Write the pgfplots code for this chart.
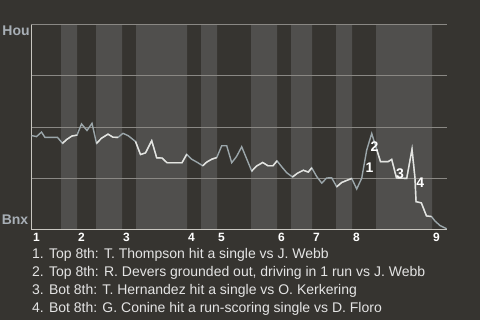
\documentclass[border=0pt]{standalone}
\usepackage{fontspec}
\setmainfont{Liberation Sans}
\usepackage{pgfplots}
\pgfplotsset{compat=1.18}
\usepackage{pgfplotstable}
\definecolor{bg}{RGB}{54,52,48}
\definecolor{band}{RGB}{80,79,77}
\definecolor{gridc}{RGB}{138,136,132}
\definecolor{axc}{RGB}{200,198,192}
\definecolor{lineblue}{RGB}{155,166,170}
\definecolor{linewhite}{RGB}{228,228,224}
\definecolor{txt}{RGB}{228,228,228}
\definecolor{team}{RGB}{168,175,182}

\pgfplotstableread{
x y
0.5 0.458
5.5 0.453
10.5 0.475
14 0.449
26.5 0.449
31.5 0.420
36 0.440
41 0.456
46 0.460
50.5 0.515
56 0.483
61 0.518
65.5 0.420
70.5 0.445
77 0.465
82 0.450
87 0.449
92 0.469
97.3 0.457
104.5 0.429
109.5 0.365
114.5 0.373
120.7 0.433
125.7 0.349
131 0.348
136 0.325
151 0.325
155.7 0.366
160.7 0.342
166.5 0.326
171.7 0.310
175.7 0.328
180.7 0.342
185.7 0.350
190.7 0.408
195.7 0.408
200.7 0.325
205.5 0.355
210.7 0.403
220.7 0.284
225.7 0.309
231.7 0.326
237 0.310
242 0.310
246 0.334
250.7 0.305
255.7 0.276
261.5 0.255
266.3 0.273
272.3 0.288
277.3 0.279
280.7 0.300
285.7 0.257
290.7 0.225
295.7 0.250
300.7 0.251
305.7 0.207
310.7 0.228
315.7 0.238
320.7 0.248
325.7 0.196
330.7 0.249
335.7 0.387
340.7 0.468
345.7 0.390
349.5 0.330
357 0.330
360.7 0.341
365.5 0.250
375.7 0.248
381 0.391
384 0.248
385 0.134
390.3 0.128
395.5 0.064
400.5 0.061
404 0.039
409 0.017
415.7 0.001
}\wpdata

\begin{document}
\begin{tikzpicture}[x=1bp,y=1bp]
\fill[bg] (0,0) rectangle (480,320);
\useasboundingbox (0,0) rectangle (480,320);
\begin{axis}[at={(31bp,91bp)}, anchor=south west, scale only axis,
  width=416bp, height=204bp, xmin=0, xmax=416, ymin=0, ymax=1,
  hide axis, clip=false]
\addplot[const plot, fill=band, draw=none] coordinates {(0,0)(30,1)(46,0)(65,1)(91,0)(105,1)(156,0)(170,1)(186,0)(220,1)(246,0)(260,1)(281,0)(305,1)(321,0)(345,1)(401,0)(416,0)} \closedcycle;
\addplot[gridc, line width=1bp] coordinates {(0,0.25)(416,0.25)};
\addplot[gridc, line width=1bp] coordinates {(0,0.5)(416,0.5)};
\addplot[gridc, line width=1bp] coordinates {(0,0.75)(416,0.75)};
\addplot[gridc, line width=1bp] coordinates {(0,1)(416,1)};
\addplot[axc, line width=1bp] coordinates {(0,0)(0,1)};
\addplot[axc, line width=1bp] coordinates {(0,0)(416,0)};
\addplot[lineblue, line width=1.4bp] table {\wpdata};
\addplot[linewhite, line width=1.4bp, restrict x to domain=29:46.5] table {\wpdata};
\addplot[linewhite, line width=1.4bp, restrict x to domain=64:91.5] table {\wpdata};
\addplot[linewhite, line width=1.4bp, restrict x to domain=104:156.5] table {\wpdata};
\addplot[linewhite, line width=1.4bp, restrict x to domain=169:186.5] table {\wpdata};
\addplot[linewhite, line width=1.4bp, restrict x to domain=219:246.5] table {\wpdata};
\addplot[linewhite, line width=1.4bp, restrict x to domain=259:281.5] table {\wpdata};
\addplot[linewhite, line width=1.4bp, restrict x to domain=304:321.5] table {\wpdata};
\addplot[linewhite, line width=1.4bp, restrict x to domain=344:401.5] table {\wpdata};
\begin{scope}[every node/.style={inner sep=0, text=white, font=\bfseries\fontsize{14bp}{16bp}\selectfont}]
\node at (axis cs:338.5,0.299) {1};
\node at (axis cs:343.5,0.404) {2};
\node at (axis cs:369,0.270) {3};
\node at (axis cs:389.3,0.228) {4};
\end{scope}
\end{axis}
\begin{scope}[every node/.style={inner sep=0, anchor=base west, text=white, font=\bfseries\fontsize{12bp}{14bp}\selectfont}]
\node at (33,79) {1};
\node at (78,79) {2};
\node at (123,79) {3};
\node at (188,79) {4};
\node at (218,79) {5};
\node at (278,79) {6};
\node at (313,79) {7};
\node at (353,79) {8};
\node at (433,79) {9};
\end{scope}
\node[inner sep=0, text=team, font=\bfseries\fontsize{14bp}{16bp}\selectfont] at (16,289) {Hou};
\node[inner sep=0, text=team, font=\bfseries\fontsize{14bp}{16bp}\selectfont] at (15,100) {Bnx};
\begin{scope}[every node/.style={inner sep=0, anchor=base west, text=txt, font=\fontsize{14bp}{16bp}\selectfont}]
\node at (32,62) {1. Top 8th: T. Thompson hit a single vs J. Webb};
\node at (32,44) {2. Top 8th: R. Devers grounded out, driving in 1 run vs J. Webb};
\node at (32,26) {3. Bot 8th: T. Hernandez hit a single vs O. Kerkering};
\node at (32,8) {4. Bot 8th: G. Conine hit a run-scoring single vs D. Floro};
\end{scope}
\end{tikzpicture}
\end{document}
